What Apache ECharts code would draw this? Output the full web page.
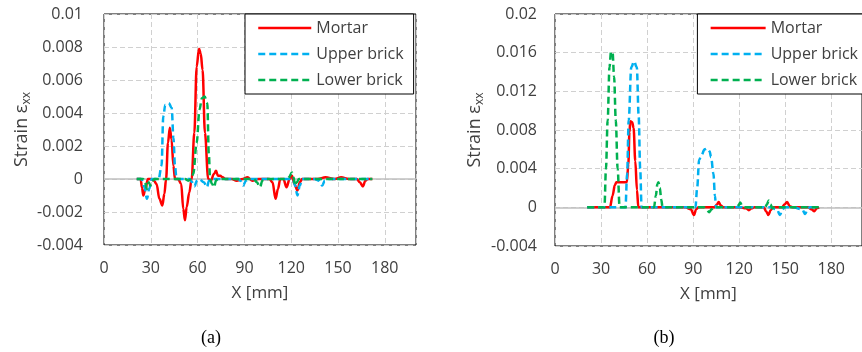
<!DOCTYPE html>
<html>
<head>
<meta charset="utf-8">
<script src="https://cdn.jsdelivr.net/npm/echarts@6/dist/echarts.min.js"></script>
<style>
  html, body { margin: 0; background: #fff; }
  #chart { width: 862px; height: 352px; }
</style>
</head>
<body>
<div id="chart"></div>
<script>
// (a) strain along X, [X mm, strain]
const aMortar = [
  [21, 0], [23.5, 0], [24.3, -0.0005], [25.2, -0.001], [26.5, -0.0006], [28.2, 0], [30, 0],
  [32, -0.0001], [33.7, -0.0003], [35.5, -0.0012], [37.4, -0.0016], [38.7, -0.0009], [39.8, 0],
  [41, 0.0022], [42.2, 0.0031], [43.3, 0.0024], [44.5, 0.0008], [45.5, 0], [47.5, 0],
  [49.5, -0.0003], [50.8, -0.0018], [51.9, -0.0025], [53, -0.0017], [54.7, -0.0008], [56.2, 0],
  [57.9, 0.0028], [59.4, 0.0068], [60.9, 0.0079], [62, 0.0076], [63.2, 0.0066], [64.7, 0.0028],
  [66.8, 0], [68.5, -0.0001], [70.5, 0.0003], [71.8, 0.0005], [73, 0.0002], [74.5, 0.0002],
  [76, 0.0001], [78, 0], [82, 0], [85, -0.0001], [89, 0], [92, 0.0001], [95, -0.0001], [99, 0],
  [106, 0], [108, -0.0002], [110, -0.0012], [111.5, -0.0006], [113, 0], [115, 0], [117, -0.0005],
  [119, 0], [120.5, 0.0002], [122, -0.0003], [124, -0.0007], [125.5, -0.0002], [127, 0], [137, 0],
  [142, 0.0001], [148, 0], [152, 0.0001], [157, 0], [162, 0], [164, -0.0002], [166, -0.00045],
  [167.5, -0.0001], [169, 0], [172, 0]
]
const aUpper = [
  [21, 0], [24, 0], [26, -0.0005], [27.5, -0.0012], [29, -0.0006], [30.5, 0], [35, 0],
  [36.9, 0.0008], [38, 0.0038], [39.3, 0.0045], [41.5, 0.0046], [43.4, 0.0043], [44.5, 0.0025],
  [45.5, 0.0008], [46.5, 0], [50, 0], [55, 0], [56.5, -0.0002], [58, -0.00045], [59.5, -0.0001],
  [61, 0], [64, -0.0002], [66, -0.0005], [67.3, -0.0001], [68.5, 0], [80, 0], [86, 0],
  [87.5, -0.0001], [89.2, -0.0004], [91, -0.0001], [93, 0], [110, 0], [121, 0], [122.5, -0.0004],
  [124, -0.001], [125.5, -0.0004], [127, 0], [135, 0], [138, -0.0001], [139.9, -0.0004],
  [141.5, -0.0001], [143, 0], [160, 0], [172, 0]
]
const aLower = [
  [21, 0], [25, 0], [26.3, -0.0002], [27.5, -0.0006], [28.7, -0.0002], [29.7, -0.0004],
  [31, -0.0001], [32.5, 0], [45, 0], [52, 0], [54, -0.0001], [56, 0], [57.2, 0.0003],
  [59.4, 0.0022], [61.2, 0.0042], [62.8, 0.0049], [64.5, 0.005], [66.2, 0.0046], [67.2, 0.0015],
  [68, 0], [69.2, -0.0003], [70.5, -0.0005], [71.8, -0.0001], [73, 0], [88, 0], [96, 0],
  [98, -0.0002], [100, -0.0005], [101.5, -0.0001], [103, 0], [117, 0], [118.5, 0.0001],
  [120.5, 0.0004], [121.5, 0.0001], [122.5, -0.0004], [123.5, -0.0002], [125, 0], [140, 0],
  [160, 0], [172, 0]
]

// (b)
const bMortar = [
  [21, 0], [30, 0], [35.8, 0], [37.5, 0.0012], [39, 0.0023], [40, 0.0026], [43, 0.0026],
  [46.8, 0.0026], [47.8, 0.0045], [48.5, 0.0078], [49.1, 0.0089], [50.3, 0.0088], [51.2, 0.0082],
  [52.3, 0.0048], [53.4, 0.0018], [54.3, 0], [65, 0], [85, 0], [88.5, -0.0002], [90.5, -0.0008],
  [92, -0.0002], [93.5, 0], [104, 0], [105.5, 0.0003], [106.6, 0.00055], [108, 0.0002],
  [109.5, 0], [120, 0], [124.5, -0.0001], [126.3, -0.0003], [128, -0.0001], [130, 0], [136, 0],
  [137.5, -0.0004], [139, -0.0008], [140.5, -0.0003], [142, 0], [148, 0], [149.5, 0.0003],
  [151.2, 0.00055], [153, 0.0001], [155, 0], [165, 0], [167, -0.0002], [169, -0.0004],
  [170.5, -0.0001], [172, 0]
]
const bUpper = [
  [21, 0], [40, 0], [45.9, 0], [47, 0.0035], [48, 0.009], [49.7, 0.0145], [51.5, 0.0151],
  [53.3, 0.0145], [54.5, 0.0095], [55.5, 0.004], [56.4, 0], [70, 0], [91.5, 0], [92.6, 0.002],
  [93.9, 0.0049], [95.4, 0.0054], [97.5, 0.006], [99.2, 0.0061], [100.7, 0.0058], [101.7, 0.0052],
  [103.2, 0.0035], [104.2, 0.0012], [104.9, 0], [120, 0], [140, 0], [144.5, -0.0002],
  [146.6, -0.0008], [148, -0.0003], [149.5, 0], [155, 0], [161, -0.0002], [163, -0.0007],
  [164.5, -0.0002], [166, 0], [172, 0]
]
const bLower = [
  [21, 0], [30, 0], [32.2, 0], [33.2, 0.004], [34.3, 0.009], [35.5, 0.0145], [36.5, 0.0161],
  [37.5, 0.016], [38.5, 0.0135], [39.6, 0.009], [40.8, 0.004], [42.1, 0], [55, 0], [64.5, 0],
  [65.7, 0.0012], [66.7, 0.0024], [67.4, 0.0026], [68.3, 0.002], [69.2, 0.0008], [70.1, 0],
  [85, 0], [97, 0], [98.5, -0.0002], [100.5, -0.0005], [102, -0.0002], [103.5, 0], [118, 0],
  [119.5, 0.0002], [120.7, 0.0005], [122, 0.0001], [123.5, 0], [137, 0], [138, 0.0003],
  [139.3, 0.0007], [140.5, 0.0003], [141.5, -0.0001], [143, 0], [160, 0], [172, 0]
]

const names = ['Mortar', 'Upper brick', 'Lower brick']
const panels = ['(a)', '(b)']

const FONT = 'Open Sans'
const TEXT = '#404040'
const lines = [
  { name: names[0], color: '#ff0000', type: 'solid' },
  { name: names[1], color: '#00b0f0', type: [7, 4] },
  { name: names[2], color: '#00b050', type: [7, 4] },
]

const grids = [
  { left: 104, top: 14, right: 446, bottom: 107 },
  { left: 555, top: 14, right: -9, bottom: 106 },
]

const xAxis = (gridIndex) => ({
  type: 'value',
  gridIndex,
  min: 0,
  max: 200,
  interval: 30,
  name: 'X [mm]',
  nameLocation: 'middle',
  nameGap: 40,
  nameTextStyle: { fontFamily: FONT, fontSize: 17, color: TEXT },
  axisLine: { show: false, onZero: false },
  axisTick: { show: false },
  axisLabel: {
    showMaxLabel: false,
    margin: 15,
    fontFamily: FONT,
    fontSize: 16,
    color: TEXT,
  },
  splitLine: { lineStyle: { color: '#d0d0d0', type: [5, 3] } },
})

const yAxis = (gridIndex, max, interval, labelMargin, nameGap) => ({
  type: 'value',
  gridIndex,
  min: -0.004,
  max,
  interval,
  name: '{a|Strain ε}{b|xx}',
  nameLocation: 'middle',
  nameGap,
  nameTextStyle: {
    rich: {
      a: { fontFamily: FONT, fontSize: 18, color: TEXT, lineHeight: 18, verticalAlign: 'top' },
      b: { fontFamily: FONT, fontSize: 12, color: TEXT, lineHeight: 12, padding: [9, 0, 0, 0] },
    },
  },
  axisLine: { show: false },
  axisTick: { show: false },
  axisLabel: { margin: labelMargin, fontFamily: FONT, fontSize: 16, color: TEXT },
  splitLine: { lineStyle: { color: '#d0d0d0', type: [5, 3] } },
})

const legendBase = {
  data: names,
  orient: 'vertical',
  top: 14,
  itemWidth: 53,
  itemHeight: 16,
  itemGap: 10,
  padding: [6, 10, 6, 12],
  backgroundColor: '#fff',
  borderColor: '#000',
  borderWidth: 1,
  borderRadius: 0,
  selectedMode: false,
  itemStyle: { opacity: 0 },
  lineStyle: { width: 2.5 },
  textStyle: { fontFamily: FONT, fontSize: 16, color: TEXT },
}

const makeSeries = (gridIndex, datasets) =>
  lines.map(({ name, color, type }, i) => ({
    name,
    type: 'line',
    xAxisIndex: gridIndex,
    yAxisIndex: gridIndex,
    data: datasets[i],
    symbol: 'none',
    showSymbol: false,
    smooth: 0.35,
    smoothMonotone: 'x',
    lineStyle: { color, width: 2.5, type },
    itemStyle: { color },
    markLine: i === 0 ? {
      silent: true,
      symbol: 'none',
      z: 1,
      label: { show: false },
      lineStyle: { color: '#bfbfbf', width: 1.5, type: 'solid' },
      data: [{ yAxis: 0 }],
    } : undefined,
  }))

const chart = echarts.init(document.getElementById('chart'))
chart.setOption({
  animation: false,
  backgroundColor: '#fff',
  grid: grids.map((g) => ({ ...g, show: true, borderColor: '#000', borderWidth: 1, backgroundColor: 'transparent' })),
  xAxis: [xAxis(0), xAxis(1)],
  yAxis: [yAxis(0, 0.01, 0.002, 21, 73), yAxis(1, 0.02, 0.004, 18, 71)],
  legend: [
    { ...legendBase, left: 245 },
    { ...legendBase, right: -6, itemWidth: 55 },
  ],
  graphic: panels.map((text, i) => ({
    type: 'text',
    x: [211, 664][i],
    y: 338,
    style: {
      text,
      font: '18px "Liberation Serif"',
      fill: '#000',
      textAlign: 'center',
      textVerticalAlign: 'middle',
    },
  })),
  series: [...makeSeries(0, [aMortar, aUpper, aLower]), ...makeSeries(1, [bMortar, bUpper, bLower])],
})
</script>
</body>
</html>
